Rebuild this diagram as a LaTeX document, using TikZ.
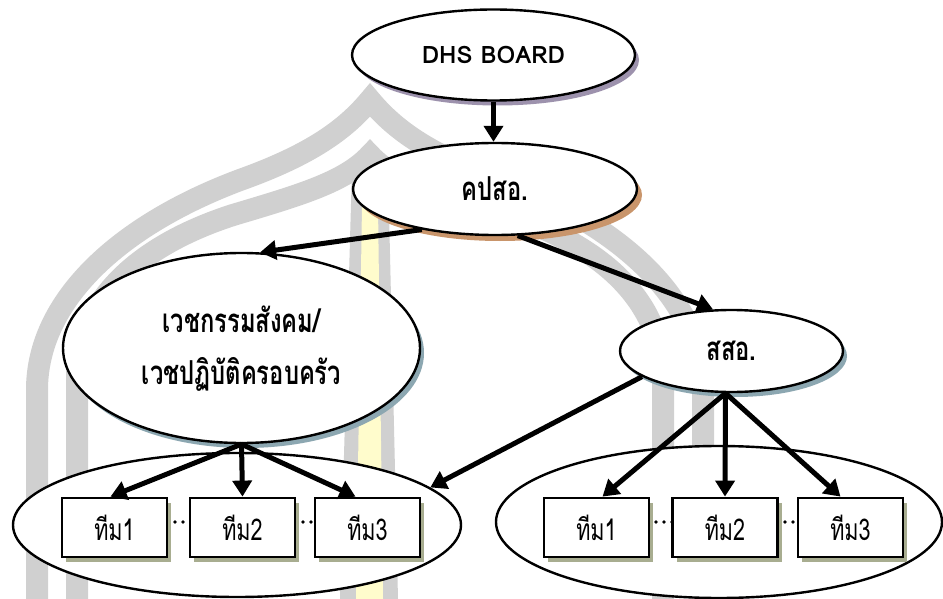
\documentclass[tikz,border=0pt]{standalone}
\usepackage{fontspec}
\usepackage{graphicx}
\newfontfamily\thaifont[Script=Thai]{Loma}
\usetikzlibrary{arrows.meta,shapes.geometric,shadows,calc}
\definecolor{wmgrey}{HTML}{D0D0D0}
\definecolor{wmyellow}{HTML}{FFFCCC}
\definecolor{shpurple}{HTML}{9D92AD}
\definecolor{shtan}{HTML}{C9956B}
\definecolor{shblue}{HTML}{8CA7B1}
\definecolor{sholive}{HTML}{A8AD90}
\newcommand\narrowtext[1]{\scalebox{0.72}[1]{#1}}
\tikzset{
  bubble/.style={ellipse, draw=black, line width=2.4pt, fill=white, inner sep=0pt},
  shade purple/.style={drop shadow={shadow xshift=4pt, shadow yshift=-5pt, fill=shpurple, opacity=1}},
  shade tan/.style={drop shadow={shadow xshift=5pt, shadow yshift=-6pt, fill=shtan, opacity=1}},
  shade blue/.style={drop shadow={shadow xshift=4pt, shadow yshift=-5pt, fill=shblue, opacity=1}},
  teambox/.style={rectangle, draw=black, line width=2.8pt, fill=white,
    minimum width=105pt, minimum height=59pt, inner sep=0pt,
    font=\thaifont\fontsize{30}{34}\selectfont,
    drop shadow={shadow xshift=4pt, shadow yshift=-5pt, fill=sholive, opacity=1}},
  toptext/.style={font=\thaifont\bfseries\fontsize{33}{36}\selectfont},
  flow/.style={line width=5pt, -{Triangle[length=16pt,width=19pt]}},
  dotgap/.style={line width=3.6pt, line cap=round, dash pattern=on 0pt off 8pt},
  band/.style={draw=wmgrey, line width=22pt, line join=miter, line cap=butt},
}
\begin{document}
\begin{tikzpicture}[x=1pt,y=-1pt]
  \fill[white] (0,0) rectangle (943,599);
  \useasboundingbox (0,0) rectangle (943,599);

  % faint arch emblem in the background
  \draw[band] (37,599) -- (37,390) .. controls (37,300) and (120,225) .. (240,180)
    .. controls (310,155) and (345,130) .. (370,100)
    .. controls (395,130) and (430,155) .. (500,180)
    .. controls (620,225) and (703,300) .. (703,390) -- (703,599);
  \draw[band] (77,599) -- (77,380) .. controls (77,300) and (140,245) .. (233,215)
    .. controls (300,195) and (345,182) .. (370,155)
    .. controls (395,182) and (440,195) .. (507,215)
    .. controls (600,245) and (663,300) .. (663,380) -- (663,599);
  \fill[wmgrey] (352,168) -- (388,168) -- (398,599) -- (340,599) -- cycle;
  \fill[wmyellow] (362,205) -- (378,205) -- (383,599) -- (356,599) -- cycle;

  % hierarchy bubbles
  \node[bubble, shade purple, minimum width=283pt, minimum height=91pt,
    font=\thaifont\bfseries\fontsize{24}{28}\selectfont]
    (dhs) at (493.5,55) {\raisebox{-4pt}{DHS BOARD}};
  \node[bubble, shade tan, toptext, minimum width=284pt, minimum height=92pt]
    (kps) at (495,189) {\raisebox{-4pt}{\narrowtext{คปสอ.}}};
  \node[bubble, shade blue, minimum width=357pt, minimum height=190pt,
    font=\thaifont\bfseries\fontsize{33}{52}\selectfont]
    (vech) at (241.5,348)
    {\raisebox{4pt}{\begin{tabular}{@{}c@{}}\narrowtext{เวชกรรมสังคม/}\\\narrowtext{เวชปฏิบัติครอบครัว}\end{tabular}}};
  \node[bubble, shade blue, toptext, minimum width=223pt, minimum height=82pt]
    (sso) at (731.5,351) {\raisebox{-6pt}{\narrowtext{สสอ.}}};

  % team groups
  \node[bubble, minimum width=448pt, minimum height=144pt] (gl) at (237,525) {};
  \node[bubble, minimum width=446pt, minimum height=152pt] (gr) at (719,522) {};

  % placeholder dots between neighbouring teams
  \draw[dotgap] (167,522) -- (190,522);
  \draw[dotgap] (295,522) -- (315,522);
  \draw[dotgap] (648,522) -- (673,522);
  \draw[dotgap] (777,522) -- (798,522);

  \node[teambox] (t1) at (114.5,527.5) {\narrowtext{ทีม1}};
  \node[teambox] (t2) at (242.5,527.5) {\narrowtext{ทีม2}};
  \node[teambox] (t3) at (367.5,527.5) {\narrowtext{ทีม3}};
  \node[teambox] (u1) at (596.5,527.5) {\narrowtext{ทีม1}};
  \node[teambox] (u2) at (725,527.5) {\narrowtext{ทีม2}};
  \node[teambox] (u3) at (850.5,527.5) {\narrowtext{ทีม3}};

  % connectors
  \draw[flow] (dhs.south) -- (dhs.south |- kps.north);
  \draw[flow] (kps.209) -- (vech.79);
  \draw[flow] (kps.296) -- (sso.114);
  \draw[flow] (sso.196) -- (gl.11);
  \draw[flow] (vech.south) -- ([xshift=-4pt]t1.north);
  \draw[flow] (vech.south) -- (t2.north);
  \draw[flow] (vech.south) -- ([xshift=-12pt]t3.north);
  \draw[flow] ([xshift=-6pt]sso.south) -- ([xshift=6pt]u1.north);
  \draw[flow] ([xshift=-6pt]sso.south) -- (u2.north);
  \draw[flow] ([xshift=-6pt]sso.south) -- ([xshift=-10pt]u3.north);
\end{tikzpicture}
\end{document}
